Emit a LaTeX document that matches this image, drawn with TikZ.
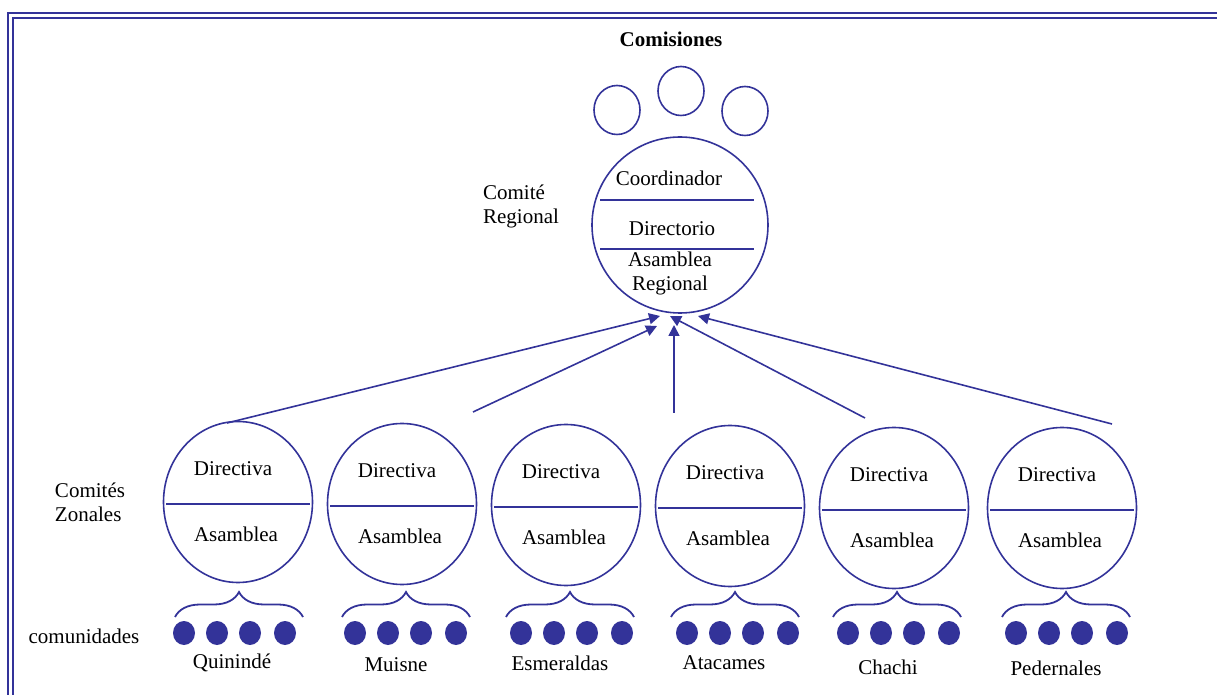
\documentclass[tikz,border=0pt]{standalone}
\usepackage{fontspec}
\setmainfont{Liberation Serif}
\usetikzlibrary{arrows.meta,shapes.geometric,decorations.pathreplacing}
\definecolor{orgblue}{RGB}{51,51,153}
\begin{document}
\begin{tikzpicture}[
    x=0.5pt, y=-0.5pt,
    every node/.style={align=center, font=\fontsize{10.5}{12}\selectfont},
    frame line/.style={draw=orgblue, line width=1.1pt},
    ring/.style={draw=orgblue, line width=0.8pt, ellipse, inner sep=0pt},
    small ring/.style={ring, minimum width=23pt, minimum height=24.5pt},
    zone ring/.style={ring, minimum width=74.5pt, minimum height=80.5pt},
    divider/.style={draw=orgblue, line width=0.8pt},
    feed arrow/.style={draw=orgblue, line width=0.8pt, -{Triangle[length=5.5pt,width=5.5pt]}},
    group brace/.style={draw=orgblue, line width=0.9pt, decorate, decoration={brace, amplitude=12.5pt}},
    member dot/.style={ellipse, fill=orgblue, inner sep=0pt, minimum width=11pt, minimum height=12pt},
    ]
\useasboundingbox (0,0) rectangle (1217,695);
\draw[frame line] (8,695) -- (8,13) -- (1217,13);
\draw[frame line] (13,695) -- (13,18) -- (1217,18);
\node[font=\fontsize{10.5}{12}\selectfont\bfseries] (comisiones) at (671,39) {Comisiones};
\node[small ring] (com1) at (617,110) {};
\node[small ring] (com2) at (681,91) {};
\node[small ring] (com3) at (745,111) {};
\node[ring, minimum size=88pt] (regional) at (680,225) {};
\draw[divider] (600,200) -- (754,200);
\draw[divider] (600,249) -- (754,249);
\node (coordinador) at (669,178) {Coordinador};
\node (directorio) at (672,229) {Directorio};
\node (asambleaR) at (670,273) {Asamblea\\Regional};
\node[align=left] (comiteR) at (521,206) {Comité\\Regional};
\node[align=left] (comitesZ) at (90,502) {Comités\\Zonales};
\node (comunidades) at (84,636) {comunidades};
\foreach \n/\cx/\cy/\bt/\dx/\town/\ty in {
    1/238/502/239/184/Quinindé/663,
    2/402/504/406/355/Muisne/665,
    3/566/505/570/521/Esmeraldas/663,
    4/730/506/735/687/Atacames/663,
    5/894/508/897/848/Chachi/667,
    6/1062/508/1066/1016/Pedernales/668} {
  \node[zone ring] (zone\n) at (\cx,\cy) {};
  \draw[divider] (\cx-72,\cy+2) -- (\cx+72,\cy+2);
  \node (dir\n) at (\cx-5,\cy-33) {Directiva};
  \node (asm\n) at (\cx-2,\cy+32) {Asamblea};
  \draw[group brace] (\bt-64,617) -- (\bt+64,617);
  \node[member dot] (dot\n-1) at (\dx,633) {};
  \node[member dot] (dot\n-2) at (\dx+33,633) {};
  \node[member dot] (dot\n-3) at (\dx+66,633) {};
  \node[member dot] (dot\n-4) at (\dx+101,633) {};
  \node (town\n) at (\cx-6,\ty) {\town};
}
\coordinate (from1) at (227,423);
\coordinate (from2) at (473,412);
\coordinate (from3) at (674,413);
\coordinate (from4) at (865,418);
\coordinate (from5) at (1112,424);
\coordinate (to1) at (660,316);
\coordinate (to2) at (657,326);
\coordinate (to3) at (674,325);
\coordinate (to4) at (670,316);
\coordinate (to5) at (698,316);
\draw[feed arrow] (from1) -- (to1);
\draw[feed arrow] (from2) -- (to2);
\draw[feed arrow] (from3) -- (to3);
\draw[feed arrow] (from4) -- (to4);
\draw[feed arrow] (from5) -- (to5);
\end{tikzpicture}
\end{document}
